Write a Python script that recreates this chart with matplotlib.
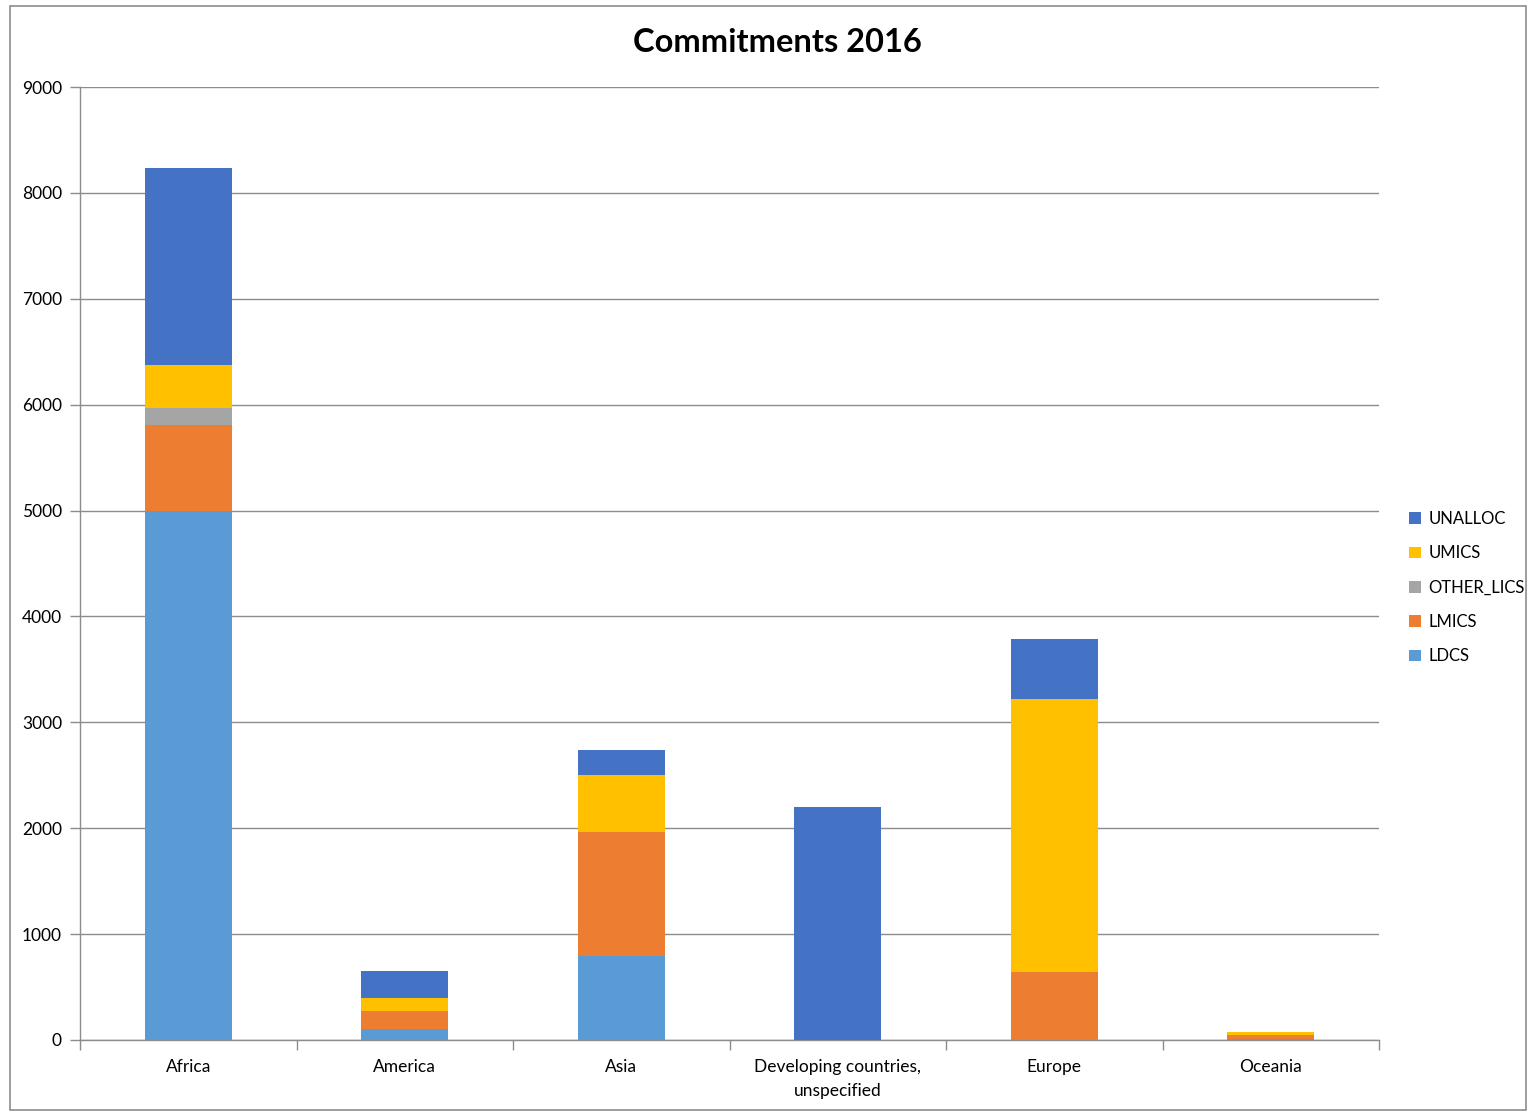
import numpy as np
import matplotlib
matplotlib.use("Agg")
import matplotlib.pyplot as plt
from matplotlib.patches import Rectangle

# ── Data ──
REGIONS = ["Africa", "America", "Asia", "Developing countries,\nunspecified",
           "Europe", "Oceania"]
LDCS = [4996, 101, 793, 0, 0, 5]
LMICS = [810, 173, 1171, 0, 642, 45]
OTHER_LICS = [162, 0, 0, 0, 0, 0]
UMICS = [406, 126, 539, 0, 2578, 30]
UNALLOC = [1861, 249, 236, 2200, 567, 0]

SERIES = [
    ("LDCS", LDCS, "#5b9bd5"),
    ("LMICS", LMICS, "#ed7d31"),
    ("OTHER_LICS", OTHER_LICS, "#a5a5a5"),
    ("UMICS", UMICS, "#ffc000"),
    ("UNALLOC", UNALLOC, "#4472c4"),
]

plt.rcParams["font.family"] = ["Lato", "DejaVu Sans"]

fig = plt.figure(figsize=(15.29, 11.12), dpi=100)
ax = fig.add_axes([80 / 1529, 1 - 1040 / 1112, 1299 / 1529, 953 / 1112])

x = np.arange(len(REGIONS))
bottom = np.zeros(len(REGIONS))
handles = []
for name, vals, color in SERIES:
    vals = np.array(vals, dtype=float)
    b = ax.bar(x, vals, width=0.4, bottom=bottom, color=color, label=name,
               zorder=3)
    handles.append(b)
    bottom += vals

ax.set_xlim(-0.5, len(REGIONS) - 0.5)
ax.set_ylim(0, 9000)
ax.set_yticks(np.arange(0, 9001, 1000))
ax.yaxis.grid(True, color="#8c8c8c", linewidth=1.0, zorder=0)
ax.set_axisbelow(True)

for s in ["top", "right"]:
    ax.spines[s].set_visible(False)
for s in ["left", "bottom"]:
    ax.spines[s].set_color("#8c8c8c")
    ax.spines[s].set_linewidth(1.0)

ax.set_xticks(x)
ax.set_xticklabels(REGIONS, fontsize=12.5, linespacing=1.6)
ax.tick_params(axis="x", length=0, pad=14)
ax.set_xticks(np.arange(-0.5, len(REGIONS), 1.0), minor=True)
ax.tick_params(axis="x", which="minor", length=7, color="#8c8c8c", width=1)
ax.tick_params(axis="y", length=7, color="#8c8c8c", width=1, labelsize=12.5,
               pad=6)

fig.text(777 / 1529, 1 - 42 / 1112, "Commitments 2016", fontsize=23.5,
         fontweight="bold", ha="center", va="center")

# legend in reverse order like the reference
leg = fig.legend(handles[::-1], [h.get_label() for h in handles[::-1]],
                 loc="upper left", bbox_to_anchor=(1409 / 1529, 1 - 511 / 1112),
                 frameon=False, fontsize=12, handlelength=0.7,
                 handleheight=0.7, handletextpad=0.45, labelspacing=1.1,
                 borderpad=0, borderaxespad=0)

# outer border of the chart area
fig.patches.append(Rectangle((10 / 1529, 2 / 1112), 1516 / 1529, 1104 / 1112,
                             transform=fig.transFigure, fill=False,
                             edgecolor="#8c8c8c", linewidth=1.2))

fig.savefig("out.png", dpi=100)
